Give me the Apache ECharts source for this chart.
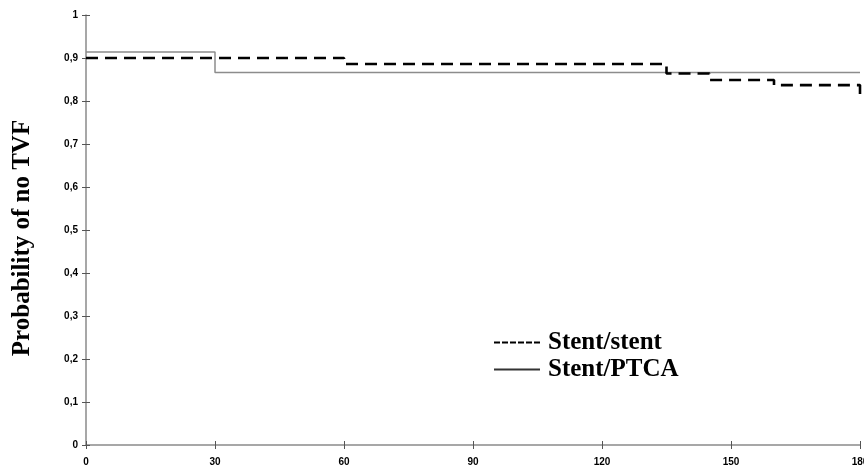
<!DOCTYPE html>
<html><head><meta charset="utf-8">
<script src="https://cdn.jsdelivr.net/npm/echarts@6/dist/echarts.min.js"></script>
<style>html,body{margin:0;padding:0;background:#fff}#c{width:864px;height:468px}</style>
</head><body><div id="c"></div>
<script>
const seriesNames = ['Stent/stent', 'Stent/PTCA'];
const stentStentDays = [0, 60, 135, 145, 160, 180];
const stentStentValues = [0.900, 0.886, 0.864, 0.849, 0.837, 0.802];
const stentPtcaDays = [0, 30, 180];
const stentPtcaValues = [0.914, 0.866, 0.866];
const xTicks = [0, 30, 60, 90, 120, 150, 180];
const yTicks = [0, 0.1, 0.2, 0.3, 0.4, 0.5, 0.6, 0.7, 0.8, 0.9, 1];
const yTitle = 'Probability of no TVF';

const pairs = (xs, ys) => xs.map((x, i) => [x, ys[i]]);
const fmtY = v => (v === 0 || v === 1) ? String(v) : String(Math.round(v * 10) / 10).replace('.', ',');
const tickFont = {fontFamily: 'Liberation Sans Narrow, Liberation Sans, Arial', fontWeight: 'bold', fontSize: 10, color: '#000'};
const axisGray = '#8a8a8a';
const dashedIcon = 'path://M0,0h6v2h-6z M8,0h6v2h-6z M16,0h6v2h-6z M24,0h6v2h-6z M32,0h6v2h-6z M40,0h6v2h-6z';
const solidIcon = 'path://M0,0h46v2h-46z';

const chart = echarts.init(document.getElementById('c'), null, {renderer: 'canvas'});
chart.setOption({
  animation: false,
  backgroundColor: '#fff',
  grid: {left: 86, right: 4, top: 15, bottom: 23, containLabel: false, outerBoundsMode: 'none'},
  xAxis: [{
    type: 'value', min: xTicks[0], max: xTicks[xTicks.length - 1], interval: 30,
    axisLine: {show: true, lineStyle: {color: axisGray, width: 1.5}},
    axisTick: {show: true, length: 4, lineStyle: {color: '#555'}},
    axisLabel: Object.assign({margin: 12, formatter: v => String(v)}, tickFont),
    splitLine: {show: false}
  }, {
    type: 'value', position: 'bottom', min: xTicks[0], max: xTicks[xTicks.length - 1], interval: 30,
    axisLine: {show: false},
    axisTick: {show: true, inside: true, length: 4, lineStyle: {color: '#555'}},
    axisLabel: {show: false}, splitLine: {show: false}
  }],
  yAxis: [{
    type: 'value', min: 0, max: 1, interval: 0.1,
    axisLine: {show: true, lineStyle: {color: axisGray, width: 1.5}},
    axisTick: {show: true, length: 4, lineStyle: {color: '#555'}},
    axisLabel: Object.assign({margin: 8, formatter: fmtY}, tickFont),
    splitLine: {show: false}
  }, {
    type: 'value', position: 'left', min: 0, max: 1, interval: 0.1,
    axisLine: {show: false},
    axisTick: {show: true, inside: true, length: 4, lineStyle: {color: '#555'}},
    axisLabel: {show: false}, splitLine: {show: false}
  }],
  graphic: [{
    type: 'text', x: 23, y: 238, rotation: Math.PI / 2,
    style: {
      text: yTitle, align: 'center', verticalAlign: 'middle',
      font: 'bold 25px "Liberation Serif", "Times New Roman", serif', fill: '#000'
    }
  }],
  legend: {
    show: true, orient: 'vertical', left: 494, top: 330, itemGap: 2, padding: 0,
    itemWidth: 46, itemHeight: 2,
    data: [
      {name: seriesNames[0], icon: dashedIcon, itemStyle: {color: '#000'}},
      {name: seriesNames[1], icon: solidIcon, itemStyle: {color: '#333'}}
    ],
    textStyle: {fontFamily: 'Liberation Serif, Times New Roman', fontWeight: 'bold', fontSize: 25, color: '#000', padding: [0, 0, 0, 3]}
  },
  series: [{
    name: seriesNames[0], type: 'line', step: 'end', symbol: 'none', showSymbol: false,
    data: pairs(stentStentDays, stentStentValues),
    lineStyle: {color: '#000', width: 2.6, type: [12, 7]},
    itemStyle: {color: '#000'}, z: 3
  }, {
    name: seriesNames[1], type: 'line', step: 'end', symbol: 'none', showSymbol: false,
    data: pairs(stentPtcaDays, stentPtcaValues),
    lineStyle: {color: '#8c8c8c', width: 1.5, type: 'solid'},
    itemStyle: {color: '#333'}, z: 2
  }]
});
</script></body></html>
